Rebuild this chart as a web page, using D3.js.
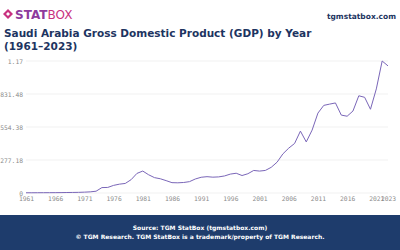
<html lang="en">
<head>
    <meta charset="UTF-8"/>
    <title>Saudi Arabia GDP</title>
    <style>
        body { margin: 0; background: #fff; }
        svg { display: block; }
        .tick text { font-family: "DejaVu Sans Mono", monospace; font-size: 6.3px; fill: #8a8a8a; }
        .title { font-family: "DejaVu Sans", sans-serif; font-weight: bold; fill: #1d3461; }
        .foot { font-family: "DejaVu Sans", sans-serif; font-weight: bold; fill: #fff; font-size: 6px; }
    </style>
</head>
<body>
<svg width="400" height="250"></svg>
<script src="https://d3js.org/d3.v7.min.js"></script>
<script>
    // GDP, billion US$
    const years = d3.range(1961, 2024);
    const gdp = [
        1.9, 2.1, 2.3, 2.5, 2.7, 3.0, 3.3, 4.2, 4.6, 5.4,
        7.2, 9.7, 15.0, 45.4, 46.8, 64.0, 74.2, 80.3, 111.9, 164.5,
        184.3, 153.2, 129.2, 119.6, 103.9, 87.0, 85.7, 88.3, 95.3, 117.6,
        132.2, 137.1, 133.0, 135.2, 143.3, 158.7, 166.0, 146.8, 161.7, 189.5,
        184.1, 189.6, 215.8, 258.7, 328.5, 376.9, 416.0, 519.8, 429.1, 528.2,
        671.2, 736.0, 746.6, 756.4, 654.3, 644.9, 688.6, 816.6, 803.6, 703.4,
        874.2, 1108.6, 1067.6
    ];
    const yTickValues = [0, 277.18, 554.36, 831.54, 1108.72];
    const yTickLabels = ["0", "277.18", "554.38", "831.48", "1.17"];
    const xTickValues = [1961, 1966, 1971, 1976, 1981, 1986, 1991, 1996, 2001, 2006, 2011, 2016, 2021, 2023];

    const svg = d3.select("svg");

    // header
    const logo = svg.append("g").attr("transform", "translate(3,9)");
    logo.append("path")
        .attr("d", "M5 0 L10 5 L5 10 L0 5 Z")
        .attr("fill", "#c8317f");
    logo.append("path")
        .attr("d", "M5 3 L7 5 L5 7 L3 5 Z")
        .attr("fill", "#fff");
    const logoText = svg.append("text")
        .attr("x", 15).attr("y", 19)
        .attr("font-family", "DejaVu Sans, sans-serif")
        .attr("font-size", 12);
    logoText.append("tspan").attr("font-weight", "900").attr("fill", "#8e3a9d").text("STAT");
    logoText.append("tspan").attr("fill", "#c8317f").text("BOX");

    svg.append("text")
        .attr("x", 396).attr("y", 19)
        .attr("text-anchor", "end")
        .attr("class", "title")
        .attr("font-size", 7.5)
        .text("tgmstatbox.com");

    svg.append("text").attr("class", "title").attr("x", 4).attr("y", 37)
        .attr("font-size", 10.5).text("Saudi Arabia Gross Domestic Product (GDP) by Year");
    svg.append("text").attr("class", "title").attr("x", 4).attr("y", 50)
        .attr("font-size", 10.5).text("(1961\u20132023)");

    // chart
    const x = d3.scaleLinear().domain([1961, 2023]).range([26, 388]);
    const y = d3.scaleLinear().domain([0, 1108.72]).range([193, 61]);

    svg.append("g")
        .selectAll("line")
        .data(yTickValues)
        .join("line")
        .attr("x1", 26).attr("x2", 388)
        .attr("y1", d => y(d)).attr("y2", d => y(d))
        .attr("stroke", "#eeeeee")
        .attr("stroke-width", 0.8);

    const yAxis = svg.append("g")
        .attr("transform", "translate(26,0)")
        .call(d3.axisLeft(y).tickValues(yTickValues).tickSize(0).tickPadding(3)
            .tickFormat((d, i) => yTickLabels[i]));
    yAxis.select(".domain").remove();

    const xAxis = svg.append("g")
        .attr("transform", "translate(0,193)")
        .call(d3.axisBottom(x).tickValues(xTickValues).tickSize(0).tickPadding(4)
            .tickFormat(d3.format("d")));
    xAxis.select(".domain").remove();

    svg.append("path")
        .datum(years.map((yr, i) => [yr, gdp[i]]))
        .attr("fill", "none")
        .attr("stroke", "#7a66b8")
        .attr("stroke-width", 1)
        .attr("d", d3.line().x(d => x(d[0])).y(d => y(d[1])));

    // footer
    svg.append("rect")
        .attr("x", 0).attr("y", 215).attr("width", 400).attr("height", 35)
        .attr("fill", "#1e3c6c");
    svg.append("text").attr("class", "foot").attr("x", 200).attr("y", 230)
        .attr("text-anchor", "middle").text("Source: TGM StatBox (tgmstatbox.com)");
    svg.append("text").attr("class", "foot").attr("x", 200).attr("y", 239)
        .attr("text-anchor", "middle")
        .text("\u00a9 TGM Research. TGM StatBox is a trademark/property of TGM Research.");
</script>
</body>
</html>
